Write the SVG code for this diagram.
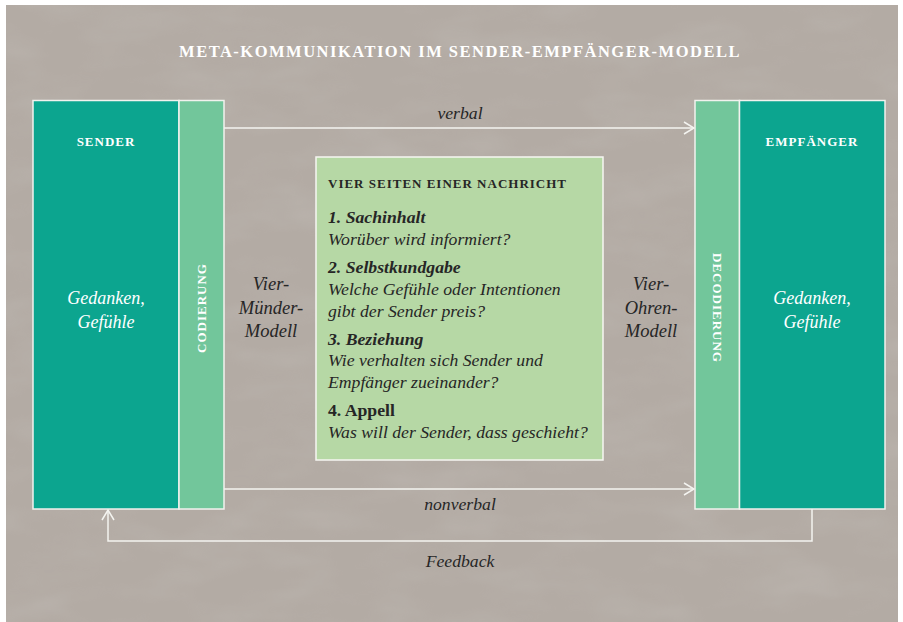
<svg xmlns="http://www.w3.org/2000/svg" width="903" height="622" viewBox="0 0 903 622">
  <defs>
    <style>
      .title { font-family: "Liberation Serif", serif; font-weight: bold; fill: #ffffff; font-size: 16.5px; letter-spacing: 1.5px; }
      .cap { font-family: "Liberation Serif", serif; font-weight: bold; fill: #ffffff; font-size: 13px; letter-spacing: 1px; }
      .white-it { font-family: "Liberation Serif", serif; font-style: italic; fill: #ffffff; font-size: 18px; }
      .dark-it { font-family: "Liberation Serif", serif; font-style: italic; fill: #262626; font-size: 17.7px; }
      .side { font-family: "Liberation Serif", serif; font-style: italic; fill: #262626; font-size: 18.5px; }
      .head { font-family: "Liberation Serif", serif; font-weight: bold; fill: #262626; font-size: 13px; letter-spacing: 1px; }
      .item { font-family: "Liberation Serif", serif; font-weight: bold; font-style: italic; fill: #262626; font-size: 17.7px; }
      .item-up { font-family: "Liberation Serif", serif; font-weight: bold; fill: #262626; font-size: 17.7px; }
      .main { fill: #0ca58f; stroke: #f2f2ee; stroke-width: 1.5; }
      .code { fill: #72c69b; stroke: #f2f2ee; stroke-width: 1.5; }
      .msg { fill: #b6d8a5; stroke: #f6f6f2; stroke-width: 1.5; }
      .line { fill: none; stroke: #f4f4f0; stroke-width: 1.5; }
    </style>
    <marker id="open-arrow" viewBox="0 0 12 14" refX="11" refY="7" markerWidth="12" markerHeight="14" markerUnits="userSpaceOnUse" orient="auto">
      <path d="M1,1 L11,7 L1,13" fill="none" stroke="#f4f4f0" stroke-width="1.5"/>
    </marker>
    <!-- mottled stone surface -->
    <filter id="stone" x="0" y="0" width="100%" height="100%">
      <feTurbulence type="fractalNoise" baseFrequency="0.012 0.03" numOctaves="3" seed="7" result="noise"/>
      <feColorMatrix in="noise" type="matrix" values="0 0 0 0 0.62  0 0 0 0 0.6  0 0 0 0 0.57  0 0 0 1.1 -0.45"/>
    </filter>
  </defs>

  <!-- page and stone background -->
  <rect x="0" y="0" width="903" height="622" fill="#ffffff"/>
  <rect x="6" y="5" width="892" height="617" fill="#b3aba4"/>
  <rect x="6" y="5" width="892" height="617" filter="url(#stone)" opacity="0.35"/>

  <text class="title" x="460" y="57" text-anchor="middle">META-KOMMUNIKATION IM SENDER-EMPFÄNGER-MODELL</text>

  <!-- connectors -->
  <g id="connectors">
    <line class="line" x1="224" y1="128" x2="694" y2="128" marker-end="url(#open-arrow)"/>
    <line class="line" x1="224" y1="489" x2="694" y2="489" marker-end="url(#open-arrow)"/>
    <polyline class="line" points="812,509 812,541 108,541 108,510" marker-end="url(#open-arrow)"/>
    <text class="dark-it" x="460" y="119" text-anchor="middle">verbal</text>
    <text class="dark-it" x="460" y="510" text-anchor="middle">nonverbal</text>
    <text class="dark-it" x="460" y="567" text-anchor="middle">Feedback</text>
  </g>

  <!-- sender -->
  <g id="sender">
    <rect class="main" x="33" y="100.5" width="146" height="408.5"/>
    <text class="cap" x="106" y="146" text-anchor="middle">SENDER</text>
    <text class="white-it" x="106" y="304" text-anchor="middle">Gedanken,</text>
    <text class="white-it" x="106" y="328" text-anchor="middle">Gefühle</text>
  </g>

  <g id="codierung">
    <rect class="code" x="179" y="100.5" width="45" height="408.5"/>
    <text class="cap" transform="translate(206 308) rotate(-90)" text-anchor="middle">CODIERUNG</text>
  </g>

  <g id="vier-muender">
    <text class="side" x="271" y="290" text-anchor="middle">Vier-</text>
    <text class="side" x="271" y="314" text-anchor="middle">Münder-</text>
    <text class="side" x="271" y="337" text-anchor="middle">Modell</text>
  </g>

  <!-- message -->
  <g id="nachricht">
    <rect class="msg" x="316" y="157" width="287" height="303"/>
    <text class="head" x="328" y="188">VIER SEITEN EINER NACHRICHT</text>
    <text class="item" x="328" y="223">1. Sachinhalt</text>
    <text class="dark-it" x="328" y="245">Worüber wird informiert?</text>
    <text class="item" x="328" y="273">2. Selbstkundgabe</text>
    <text class="dark-it" x="328" y="295">Welche Gefühle oder Intentionen</text>
    <text class="dark-it" x="328" y="317">gibt der Sender preis?</text>
    <text class="item" x="328" y="345">3. Beziehung</text>
    <text class="dark-it" x="328" y="366">Wie verhalten sich Sender und</text>
    <text class="dark-it" x="328" y="388">Empfänger zueinander?</text>
    <text class="item-up" x="328" y="416">4. Appell</text>
    <text class="dark-it" x="328" y="438">Was will der Sender, dass geschieht?</text>
  </g>

  <g id="vier-ohren">
    <text class="side" x="651" y="290" text-anchor="middle">Vier-</text>
    <text class="side" x="651" y="314" text-anchor="middle">Ohren-</text>
    <text class="side" x="651" y="337" text-anchor="middle">Modell</text>
  </g>

  <!-- receiver -->
  <g id="decodierung">
    <rect class="code" x="695" y="100.5" width="44.5" height="408.5"/>
    <text class="cap" transform="translate(713 308) rotate(90)" text-anchor="middle">DECODIERUNG</text>
  </g>

  <g id="empfaenger">
    <rect class="main" x="739.5" y="100.5" width="145.5" height="408.5"/>
    <text class="cap" x="812" y="146" text-anchor="middle">EMPFÄNGER</text>
    <text class="white-it" x="812" y="304" text-anchor="middle">Gedanken,</text>
    <text class="white-it" x="812" y="328" text-anchor="middle">Gefühle</text>
  </g>
</svg>
